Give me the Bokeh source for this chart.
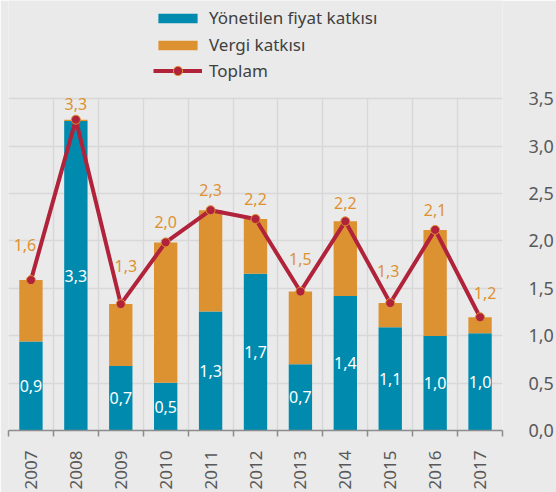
import numpy as np
from bokeh.plotting import figure
from bokeh.models import (ColumnDataSource, FixedTicker, Range1d, Legend, LegendItem,
                          CustomJSTickFormatter)
from bokeh.core.properties import value
from bokeh.embed import file_html
from bokeh.resources import INLINE

# ---- data ----
years = ["2007", "2008", "2009", "2010", "2011", "2012", "2013", "2014", "2015", "2016", "2017"]
yonetilen = [0.94, 3.265, 0.68, 0.505, 1.255, 1.655, 0.70, 1.42, 1.09, 0.997, 1.025]
vergi = [0.647, 0.015, 0.654, 1.48, 1.07, 0.577, 0.766, 0.787, 0.255, 1.12, 0.17]
series_names = ["Yönetilen fiyat katkısı", "Vergi katkısı", "Toplam"]
y_ticks = [0.0, 0.5, 1.0, 1.5, 2.0, 2.5, 3.0, 3.5]

# ---- style ----
BG = "#EAEAEA"
GRID = "#D8D8D8"
BLUE = "#008BAE"
ORANGE = "#DD9232"
RED = "#B0233A"
TEXT = "#595959"
FONT = "Noto Sans"
label_dx = [-6, 0, 5, 0, 0, 0, 0, 0, -2, 0, 5]
label_dy = [-35, -16, -38, -20, -20, -20, -33, -18, -32, -20, -24]
Y_TOP = 3.5 * 433 / 334  # extra room above the 3.5 grid line for the legend

def fmt(v):
    return f"{v:.1f}".replace(".", ",")

x = (np.arange(len(years)) + 0.5).tolist()
total = (np.array(yonetilen) + np.array(vergi)).tolist()

src = ColumnDataSource(dict(
    x=x, blue=yonetilen, total=total,
    blue_mid=[v / 2 for v in yonetilen],
    blue_lbl=[fmt(v) for v in yonetilen],
    total_lbl=[fmt(v) for v in total],
    dx=label_dx, dy=label_dy,
))

p = figure(width=556, height=492, x_range=Range1d(0, len(years)), y_range=Range1d(0, Y_TOP),
           output_backend="svg", toolbar_location=None, y_axis_location="right",
           min_border_left=8, min_border_right=49, min_border_top=0, min_border_bottom=59,
           background_fill_color=BG, border_fill_color=BG, outline_line_color=None)

r_blue = p.vbar(x="x", top="blue", bottom=0, width=0.52, source=src,
                fill_color=BLUE, line_color=None)
r_orange = p.vbar(x="x", top="total", bottom="blue", width=0.52, source=src,
                  fill_color=ORANGE, line_color=None)
r_line = p.line(x="x", y="total", source=src, line_color=RED, line_width=4)
r_pts = p.scatter(x="x", y="total", source=src, size=9, fill_color=RED,
                  line_color=ORANGE, line_width=1)

p.text(x="x", y="blue_mid", text="blue_lbl", source=src, text_color="white",
       text_font=value(FONT), text_font_size="16px", text_align="center",
       text_baseline="middle")
p.text(x="x", y="total", text="total_lbl", source=src, text_color=ORANGE,
       x_offset="dx", y_offset="dy",
       text_font=value(FONT), text_font_size="16px", text_align="center",
       text_baseline="middle")

# axes
yax = p.yaxis[0]
yax.ticker = FixedTicker(ticks=y_ticks)
yax.formatter = CustomJSTickFormatter(code="return tick.toFixed(1).replace('.', ',');")
yax.axis_line_color = None
yax.major_tick_line_color = None
yax.minor_tick_line_color = None
yax.major_label_standoff = 20
yax.major_label_text_font = FONT
yax.major_label_text_font_size = "18px"
yax.major_label_text_color = TEXT

xax = p.xaxis[0]
xax.ticker = FixedTicker(ticks=x, minor_ticks=list(range(len(years) + 1)))
xax.formatter = CustomJSTickFormatter(args=dict(labels=years),
                                      code="return labels[Math.floor(tick)];")
xax.major_label_orientation = np.pi / 2
xax.axis_line_color = "#8C8C8C"
xax.axis_line_width = 1.5
xax.major_tick_line_color = None
xax.major_tick_out = 0
xax.minor_tick_line_color = "#8C8C8C"
xax.minor_tick_line_width = 1.5
xax.minor_tick_in = 0
xax.minor_tick_out = 6
xax.major_label_standoff = 14
xax.major_label_text_font = FONT
xax.major_label_text_font_size = "17px"
xax.major_label_text_color = TEXT

p.xgrid.ticker = FixedTicker(ticks=list(range(len(years) + 1)))
p.xgrid.cross_bounds = (0, 3.5)
p.xgrid.grid_line_color = GRID
p.xgrid.grid_line_width = 1.5
p.ygrid.grid_line_color = GRID
p.ygrid.grid_line_width = 1.5

legend_style = dict(orientation="vertical", glyph_width=49, label_height=23, spacing=4,
                    padding=4, margin=0, label_standoff=7, label_text_font=FONT,
                    label_text_font_size="17px", label_text_color="#404040",
                    background_fill_alpha=0, border_line_color=None)
legend_bars = Legend(items=[
    LegendItem(label=series_names[0], renderers=[r_blue]),
    LegendItem(label=series_names[1], renderers=[r_orange]),
], location=(145, 374), glyph_height=12, **legend_style)
legend_line = Legend(items=[
    LegendItem(label=series_names[2], renderers=[r_line, r_pts]),
], location=(145, 348), glyph_height=23, **legend_style)
p.add_layout(legend_bars, "center")
p.add_layout(legend_line, "center")

open("out.html", "w").write(file_html(p, INLINE))
